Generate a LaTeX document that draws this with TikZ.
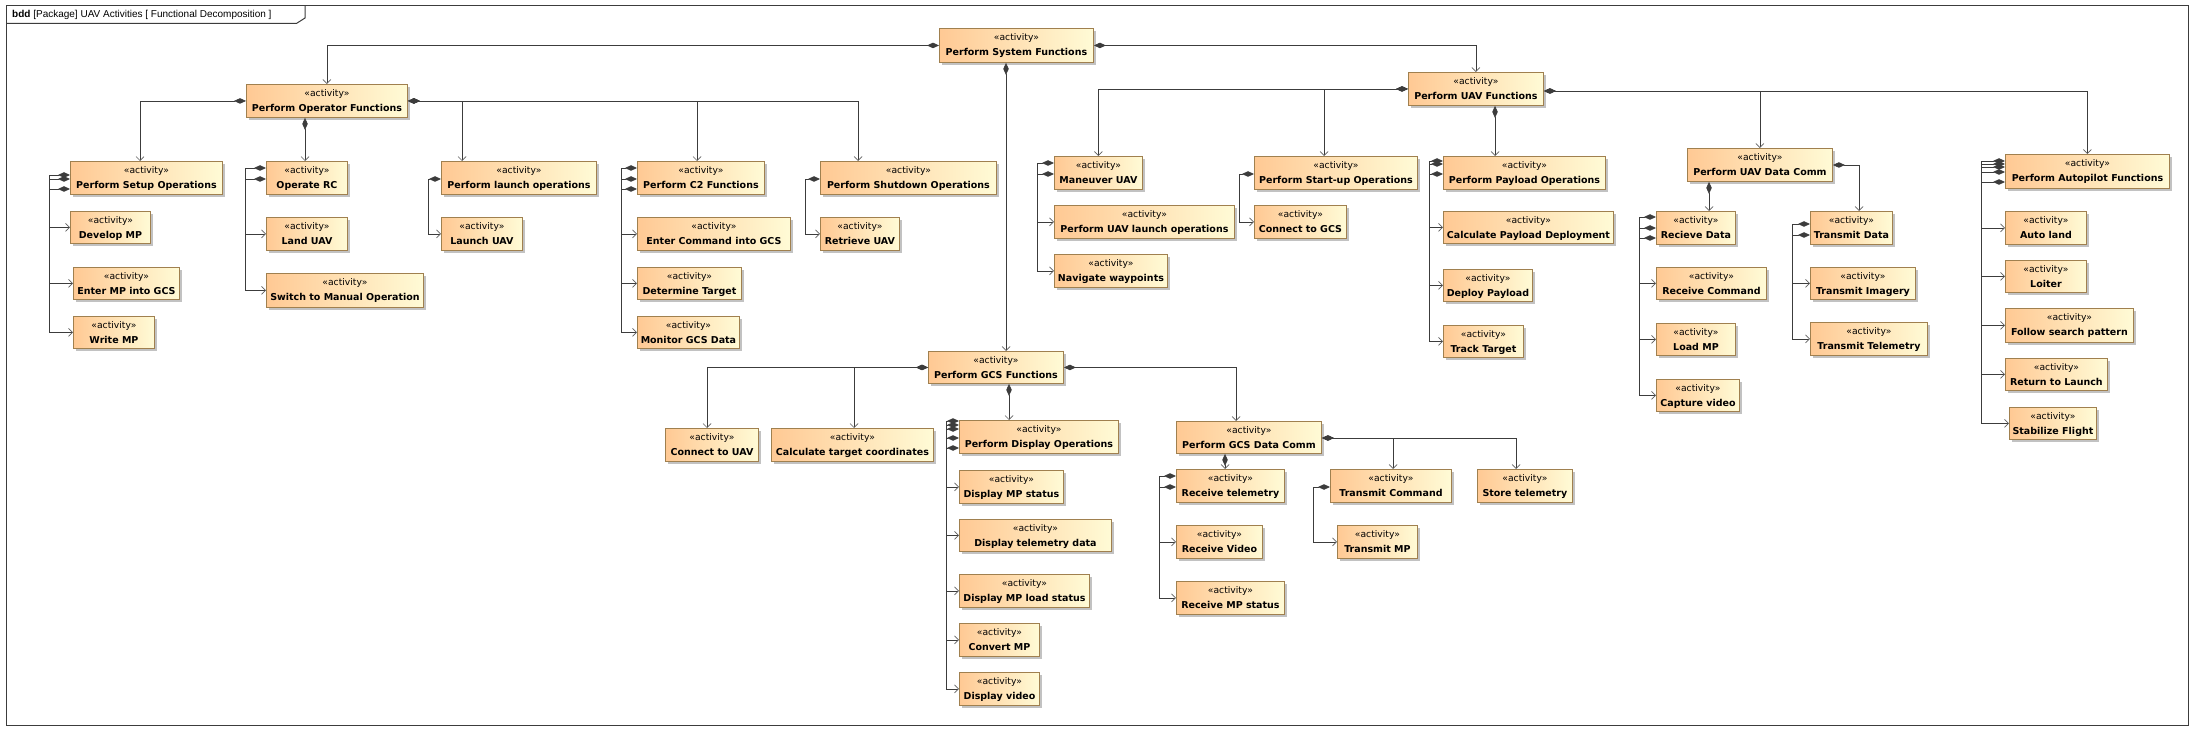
\documentclass[tikz,border=0pt]{standalone}
\usepackage{fontspec}
\setmainfont{DejaVu Sans}
\newfontfamily\titlefont{Liberation Sans}
\usetikzlibrary{arrows.meta,calc}
\definecolor{boxL}{HTML}{FFC994}
\definecolor{boxR}{HTML}{FFFBD6}
\definecolor{boxB}{HTML}{A0804F}
\definecolor{shad}{HTML}{C2C2C2}
\definecolor{linec}{HTML}{3C3C3C}
\definecolor{arrc}{HTML}{606060}
\tikzset{
  actbox/.style={draw=boxB, line width=0.9pt, left color=boxL, right color=boxR, inner sep=0pt, anchor=north west},
  stereo/.style={font=\fontsize{9.2}{10}\selectfont, inner sep=0pt, anchor=base},
  aname/.style={font=\fontsize{9.5}{11}\selectfont\bfseries, inner sep=0pt, anchor=base},
  comp/.style={draw=linec, line width=0.85pt, {Diamond[length=12pt,width=5.5pt]}-{Straight Barb[length=4pt,width=8pt,line width=0.7pt,color=arrc]}},
  framec/.style={draw=linec, line width=1pt},
}
\newcommand{\act}[6]{%
  \fill[shad] (#2+3,#3+3) rectangle (#4+3,#5+3);
  \node[actbox, minimum width=#4-#2, minimum height=#5-#3] (#1) at (#2,#3) {};
  \node[stereo] at ($(#1.north)+(0,12.5)$) {«activity»};
  \node[aname] at ($(#1.north)+(0,27.5)$) {#6};
}
\begin{document}
\begin{tikzpicture}[x=1pt,y=-1pt]
\fill[white] (0,0) rectangle (2193,730);
\useasboundingbox (0,0) rectangle (2193,730);
% frame
\draw[framec] (6,6) rectangle (2188,725);
\draw[framec] (6,23.3) -- (296.7,23.3) -- (305,18) -- (305,6);
\node[anchor=base west, font=\titlefont\fontsize{10}{12}\selectfont, inner sep=0pt] (title) at (12,18) {\textbf{bdd} [Package] UAV Activities [ Functional Decomposition ]};
% boxes
\act{sys}{939}{28}{1093}{62}{Perform System Functions}
\act{op}{246}{84}{407}{117}{Perform Operator Functions}
\act{setup}{70}{161}{222}{194}{Perform Setup Operations}
\act{dev}{70}{211}{150}{243}{Develop MP}
\act{entmp}{73}{267}{179}{299}{Enter MP into GCS}
\act{wmp}{73}{316}{154}{348}{Write MP}
\act{rc}{266}{161}{347}{194}{Operate RC}
\act{land}{266}{217}{347}{250}{Land UAV}
\act{manual}{266}{273}{423}{307}{Switch to Manual Operation}
\act{launch}{441}{161}{596}{194}{Perform launch operations}
\act{luav}{441}{217}{522}{250}{Launch UAV}
\act{c2}{637}{161}{764}{194}{Perform C2 Functions}
\act{entcmd}{637}{217}{790}{250}{Enter Command into GCS}
\act{det}{637}{267}{741}{299}{Determine Target}
\act{mon}{637}{316}{739}{348}{Monitor GCS Data}
\act{shut}{820}{161}{996}{194}{Perform Shutdown Operations}
\act{ret}{820}{217}{899}{250}{Retrieve UAV}
\act{uav}{1408}{72}{1543}{105}{Perform UAV Functions}
\act{man}{1054}{156}{1142}{189}{Maneuver UAV}
\act{ulaunch}{1054}{205}{1234}{238}{Perform UAV launch operations}
\act{nav}{1054}{254}{1167}{287}{Navigate waypoints}
\act{start}{1254}{156}{1417}{189}{Perform Start-up Operations}
\act{cgcs}{1254}{205}{1346}{238}{Connect to GCS}
\act{pay}{1443}{156}{1605}{189}{Perform Payload Operations}
\act{cpd}{1443}{211}{1613}{243}{Calculate Payload Deployment}
\act{dpay}{1443}{269}{1532}{301}{Deploy Payload}
\act{track}{1443}{325}{1523}{357}{Track Target}
\act{dc}{1687}{148}{1832}{181}{Perform UAV Data Comm}
\act{rd}{1656}{211}{1735}{244}{Recieve Data}
\act{rcmd}{1656}{267}{1766}{299}{Receive Command}
\act{lmp}{1656}{323}{1735}{355}{Load MP}
\act{cap}{1656}{379}{1739}{411}{Capture video}
\act{td}{1810}{211}{1892}{244}{Transmit Data}
\act{timg}{1810}{267}{1915}{299}{Transmit Imagery}
\act{ttel}{1810}{322}{1927}{355}{Transmit Telemetry}
\act{ap}{2005}{154}{2169}{188}{Perform Autopilot Functions}
\act{aland}{2005}{211}{2086}{244}{Auto land}
\act{loit}{2005}{260}{2086}{292}{Loiter}
\act{fsp}{2005}{308}{2133}{342}{Follow search pattern}
\act{rtl}{2005}{358}{2107}{390}{Return to Launch}
\act{stab}{2009}{407}{2096}{439}{Stabilize Flight}
\act{gcs}{928}{351}{1063}{383}{Perform GCS Functions}
\act{cuav}{665}{428}{758}{461}{Connect to UAV}
\act{ctc}{771}{428}{933}{461}{Calculate target coordinates}
\act{disp}{959}{420}{1118}{453}{Perform Display Operations}
\act{dmps}{959}{470}{1063}{503}{Display MP status}
\act{dtel}{959}{519}{1111}{551}{Display telemetry data}
\act{dload}{959}{574}{1089}{607}{Display MP load status}
\act{conv}{959}{623}{1039}{656}{Convert MP}
\act{dvid}{959}{672}{1039}{705}{Display video}
\act{gdc}{1176}{421}{1321}{453}{Perform GCS Data Comm}
\act{rtel}{1176}{469}{1284}{502}{Receive telemetry}
\act{rvid}{1176}{525}{1262}{558}{Receive Video}
\act{rmps}{1176}{581}{1284}{614}{Receive MP status}
\act{tcmd}{1330}{469}{1451}{502}{Transmit Command}
\act{tmp}{1337}{525}{1417}{558}{Transmit MP}
\act{stel}{1477}{469}{1572}{502}{Store telemetry}
% system
\draw[comp] (sys.west) -| (op.north);
\draw[comp] (sys.east) -| (uav.north);
\draw[comp] (sys.south -| 1006,0) -- (gcs.north -| 1006,0);
% operator
\draw[comp] (op.west) -| (setup.north -| 140,0);
\draw[comp] (op.south -| 305,0) -- (rc.north -| 305,0);
\draw[comp] (op.east) -| (launch.north -| 462,0);
\draw[comp] (op.east) -| (c2.north -| 697,0);
\draw[comp] (op.east) -| (shut.north -| 858,0);
\draw[comp] (setup.west |- 0,175) -- (49,175) |- (dev.west);
\draw[comp] (setup.west |- 0,179) -- (49,179) |- (entmp.west);
\draw[comp] (setup.west |- 0,189) -- (49,189) |- (wmp.west);
\draw[comp] (rc.west |- 0,168) -- (245,168) |- (land.west);
\draw[comp] (rc.west |- 0,179) -- (245,179) |- (manual.west);
\draw[comp] (launch.west |- 0,179) -- (428,179) |- (luav.west);
\draw[comp] (c2.west |- 0,168) -- (621,168) |- (entcmd.west);
\draw[comp] (c2.west |- 0,179) -- (621,179) |- (det.west);
\draw[comp] (c2.west |- 0,189) -- (621,189) |- (mon.west);
\draw[comp] (shut.west |- 0,179) -- (805,179) |- (ret.west);
% uav
\draw[comp] (uav.west) -| (man.north);
\draw[comp] (uav.west) -| (start.north -| 1324,0);
\draw[comp] (uav.south -| 1495,0) -- (pay.north -| 1495,0);
\draw[comp] (uav.east |- 0,91) -| (dc.north);
\draw[comp] (uav.east |- 0,91) -| (ap.north);
\draw[comp] (man.west |- 0,163) -- (1037,163) |- (ulaunch.west);
\draw[comp] (man.west |- 0,174) -- (1037,174) |- (nav.west);
\draw[comp] (start.west |- 0,174) -- (1239,174) |- (cgcs.west);
\draw[comp] (pay.west |- 0,161) -- (1429,161) |- (cpd.west);
\draw[comp] (pay.west |- 0,164) -- (1429,164) |- (dpay.west);
\draw[comp] (pay.west |- 0,174) -- (1429,174) |- (track.west);
\draw[comp] (dc.south -| 1709,0) -- (rd.north -| 1709,0);
\draw[comp] (dc.east |- 0,165) -| (td.north -| 1859,0);
\draw[comp] (rd.west |- 0,217) -- (1639,217) |- (rcmd.west);
\draw[comp] (rd.west |- 0,228) -- (1639,228) |- (lmp.west);
\draw[comp] (rd.west |- 0,238) -- (1639,238) |- (cap.west);
\draw[comp] (td.west |- 0,224) -- (1792,224) |- (timg.west);
\draw[comp] (td.west |- 0,235) -- (1792,235) |- (ttel.west);
\draw[comp] (ap.west |- 0,161) -- (1981,161) |- (aland.west);
\draw[comp] (ap.west |- 0,164) -- (1981,164) |- (loit.west);
\draw[comp] (ap.west |- 0,167) -- (1981,167) |- (fsp.west);
\draw[comp] (ap.west |- 0,172) -- (1981,172) |- (rtl.west);
\draw[comp] (ap.west |- 0,182) -- (1981,182) |- (stab.west);
% gcs
\draw[comp] (gcs.west) -| (cuav.north -| 707,0);
\draw[comp] (gcs.west) -| (ctc.north -| 854,0);
\draw[comp] (gcs.south -| 1009,0) -- (disp.north -| 1009,0);
\draw[comp] (gcs.east) -| (gdc.north -| 1236,0);
\draw[comp] (disp.west |- 0,421) -- (946,421) |- (dmps.west);
\draw[comp] (disp.west |- 0,425) -- (946,425) |- (dtel.west);
\draw[comp] (disp.west |- 0,429) -- (946,429) |- (dload.west);
\draw[comp] (disp.west |- 0,438) -- (946,438) |- (conv.west);
\draw[comp] (disp.west |- 0,448) -- (946,448) |- (dvid.west);
\draw[comp] (gdc.south -| 1225,0) -- (rtel.north -| 1225,0);
\draw[comp] (gdc.east |- 0,438) -| (tcmd.north -| 1393,0);
\draw[comp] (gdc.east |- 0,438) -| (stel.north -| 1516,0);
\draw[comp] (rtel.west |- 0,476) -- (1159,476) |- (rvid.west);
\draw[comp] (rtel.west |- 0,487) -- (1159,487) |- (rmps.west);
\draw[comp] (tcmd.west |- 0,487) -- (1313,487) |- (tmp.west);
\end{tikzpicture}
\end{document}
